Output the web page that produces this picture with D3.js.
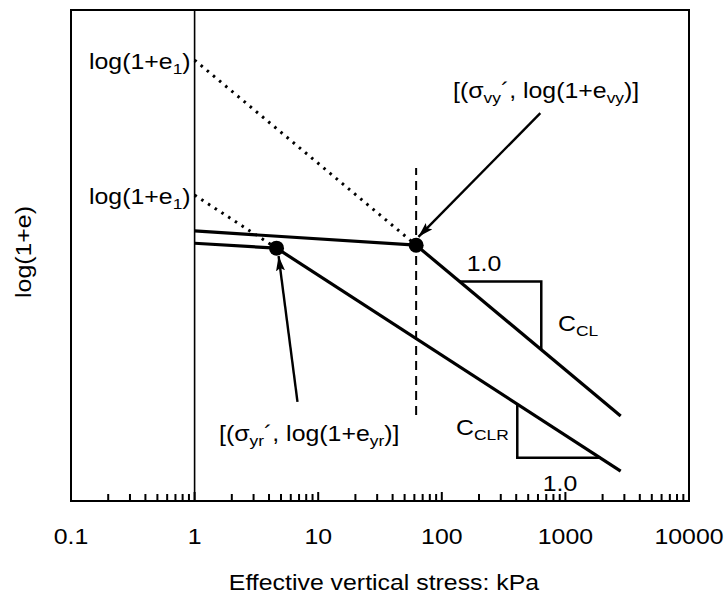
<!DOCTYPE html>
<html>
<head>
<meta charset="utf-8">
<script src="https://cdn.jsdelivr.net/npm/d3@7"></script>
<style>
  body { margin: 0; background: #fff; }
  text { font-family: "Liberation Sans", Arial, Helvetica, sans-serif; fill: #000; }
</style>
</head>
<body>
<div id="chart"></div>
<script>
// Tick values and labels of the log stress axis (kPa)
const xTicks = [0.1, 1, 10, 100, 1000, 10000];
const xTickLabels = ['0.1', '1', '10', '100', '1000', '10000'];
const minorSteps = [2, 3, 4, 5, 6, 7, 8, 9];

// Lines: [stress kPa, log(1+e) in relative units]
const upperUnload = [[1, 0.550], [62, 0.521]];
const clLine = [[62, 0.521], [2800, 0.173]];
const lowerUnload = [[1, 0.525], [4.6, 0.515]];
const clrLine = [[4.6, 0.515], [2800, 0.061]];
const clExtension = [[1, 0.898], [62, 0.521]];
const clrExtension = [[1, 0.623], [4.6, 0.515]];
const yieldStressLine = [[62, 0.175], [62, 0.678]];
const refLine = [[1, 0], [1, 1]];

// Yield points
const yieldPoints = [[62, 0.521], [4.6, 0.515]];

// Slope triangles
const clTriangle = [[139, 0.447], [638, 0.447], [638, 0.308]];
const clrTriangle = [[408, 0.197], [408, 0.088], [1915, 0.088]];

// Annotation arrows: [from, to]
const arrows = [
  [[627, 0.790], [64.7, 0.538]],
  [[6.8, 0.202], [4.78, 0.499]]
];

const config = {
  width: 726, height: 597,
  margin: {top: 10, right: 37, bottom: 96, left: 71},
  fontSize: 22,
  stretch: 1.13
};

const innerW = config.width - config.margin.left - config.margin.right;
const innerH = config.height - config.margin.top - config.margin.bottom;

const x = d3.scaleLog().domain([0.1, 10000]).range([0, innerW]);
const y = d3.scaleLinear().domain([0, 1]).range([innerH, 0]);

const svg = d3.select('#chart').append('svg')
  .attr('width', config.width)
  .attr('height', config.height);

svg.append('defs').append('marker')
  .attr('id', 'arrow')
  .attr('markerUnits', 'userSpaceOnUse')
  .attr('markerWidth', 16).attr('markerHeight', 10)
  .attr('refX', 15).attr('refY', 4.5)
  .attr('orient', 'auto')
  .append('path')
  .attr('d', 'M0,0 L15,4.5 L0,9 L3,4.5 Z')
  .attr('fill', '#000');

const g = svg.append('g')
  .attr('transform', `translate(${config.margin.left},${config.margin.top})`);

const line = d3.line().x(d => x(d[0])).y(d => y(d[1]));

// frame
g.append('rect')
  .attr('width', innerW).attr('height', innerH)
  .attr('fill', 'none').attr('stroke', '#000').attr('stroke-width', 2);

// ticks along the bottom edge, pointing inward (one path, drawn on top of the frame)
const minorTicks = [];
xTicks.slice(0, -1).forEach(dec => minorSteps.forEach(k => minorTicks.push(dec * k)));
const tickData = minorTicks.map(v => [v, 7]).concat(xTicks.map(v => [v, 9]));
const tickPath = tickData.map(([v, len]) => `M${x(v)},${innerH}V${innerH - len}`).join('');
g.append('path')
  .attr('class', 'ticks')
  .attr('d', tickPath)
  .attr('fill', 'none')
  .attr('stroke', '#000')
  .attr('stroke-width', 2);

// reference line at 1 kPa
g.append('path').datum(refLine).attr('d', line)
  .attr('stroke', '#000').attr('stroke-width', 1.6).attr('fill', 'none');

// dotted extensions
g.selectAll('.ext').data([clExtension, clrExtension]).join('path')
  .attr('class', 'ext')
  .attr('d', line)
  .attr('fill', 'none').attr('stroke', '#000')
  .attr('stroke-width', 3).attr('stroke-dasharray', '2.5,5.5');

// dashed yield stress line
g.append('path').datum(yieldStressLine).attr('d', line)
  .attr('fill', 'none').attr('stroke', '#000')
  .attr('stroke-width', 2).attr('stroke-dasharray', '9,6');

// compression lines
g.selectAll('.comp').data([upperUnload, clLine, lowerUnload, clrLine]).join('path')
  .attr('class', 'comp')
  .attr('d', line)
  .attr('fill', 'none').attr('stroke', '#000').attr('stroke-width', 3.2);

// slope triangles
g.selectAll('.tri').data([clTriangle, clrTriangle]).join('path')
  .attr('class', 'tri')
  .attr('d', line)
  .attr('fill', 'none').attr('stroke', '#000').attr('stroke-width', 2.5);

// yield points
g.selectAll('.pt').data(yieldPoints).join('circle')
  .attr('class', 'pt')
  .attr('cx', d => x(d[0])).attr('cy', d => y(d[1]))
  .attr('r', 7.5).attr('fill', '#000');

// arrows
g.selectAll('.arrow').data(arrows).join('path')
  .attr('class', 'arrow')
  .attr('d', line)
  .attr('stroke', '#000').attr('stroke-width', 2.4).attr('fill', 'none')
  .attr('marker-end', 'url(#arrow)');

// tick labels
g.selectAll('.tick-label').data(xTicks).join('text')
  .attr('class', 'tick-label')
  .attr('transform', d => `translate(${x(d)},${innerH + 43}) scale(${config.stretch},1)`)
  .attr('text-anchor', 'middle')
  .attr('font-size', config.fontSize)
  .text((d, i) => xTickLabels[i]);

// text with subscripts, stretched a little horizontally like the source figure
function label(px, py, anchor, parts, size = config.fontSize) {
  const t = g.append('text')
    .attr('transform', `translate(${px},${py}) scale(${config.stretch},1)`)
    .attr('text-anchor', anchor)
    .attr('font-size', size);
  let shifted = false;
  parts.forEach(p => {
    const sub = Array.isArray(p);
    const s = t.append('tspan').text(sub ? p[0] : p);
    if (sub) { s.attr('font-size', size * 0.7).attr('dy', 5); shifted = true; }
    else if (shifted) { s.attr('dy', -5); shifted = false; }
  });
  return t;
}

label(x(1) - 4, y(0.898) + 9, 'end', ['log(1+e', ['1'], ')']);
label(x(1) - 4, y(0.623) + 9, 'end', ['log(1+e', ['1'], ')']);
label(382, 88, 'start', ['[(σ', ['vy'], '´, log(1+e', ['vy'], ')]']);
label(148, 431, 'start', ['[(σ', ['yr'], '´, log(1+e', ['yr'], ')]']);
label(413, 261, 'middle', ['1.0']);
label(487, 321, 'start', ['C', ['CL']]);
label(385, 425, 'start', ['C', ['CLR']]);
label(489, 481, 'middle', ['1.0']);

// axis titles
svg.append('text')
  .attr('transform', `translate(384,590) scale(${config.stretch},1)`)
  .attr('text-anchor', 'middle')
  .attr('font-size', config.fontSize)
  .text('Effective vertical stress: kPa');

svg.append('text')
  .attr('transform', `translate(31,252) rotate(-90) scale(${config.stretch},1)`)
  .attr('text-anchor', 'middle')
  .attr('font-size', config.fontSize)
  .text('log(1+e)');
</script>
</body>
</html>
